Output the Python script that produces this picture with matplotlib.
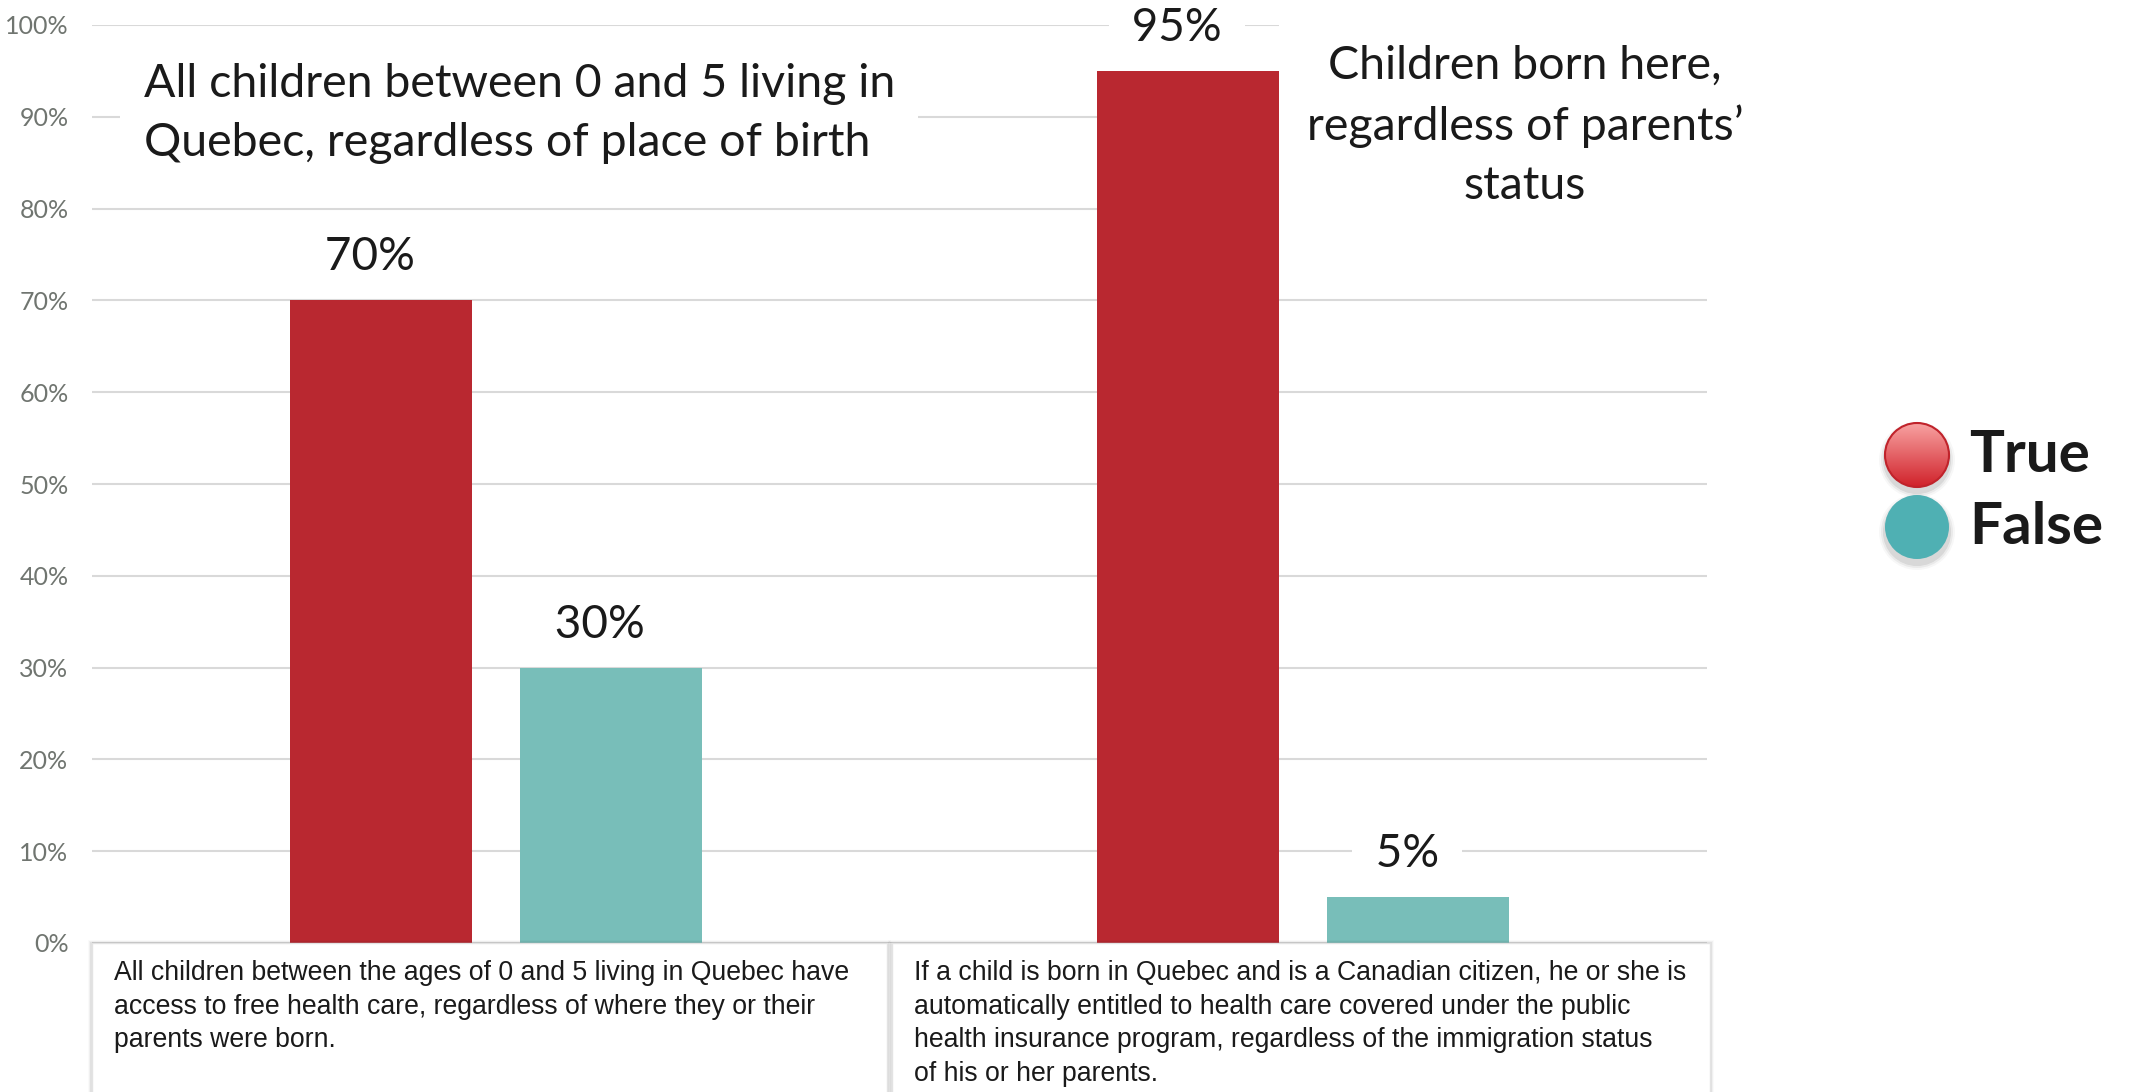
import numpy as np
import matplotlib
matplotlib.use("Agg")
import matplotlib.pyplot as plt
from matplotlib.patches import Circle, Rectangle
from matplotlib.ticker import FuncFormatter

# --- data ---
categories = ["All children 0-5 in Quebec", "Children born here"]
true_pct = [70, 95]
false_pct = [30, 5]
yticks = [0, 10, 20, 30, 40, 50, 60, 70, 80, 90, 100]

title_left = "All children between 0 and 5 living in\nQuebec, regardless of place of birth"
title_right = "Children born here,\nregardless of parents\u2019\nstatus"
note_left = ("All children between the ages of 0 and 5 living in Quebec have\n"
             "access to free health care, regardless of where they or their\n"
             "parents were born.")
note_right = ("If a child is born in Quebec and is a Canadian citizen, he or she is\n"
              "automatically entitled to health care covered under the public\n"
              "health insurance program, regardless of the immigration status\n"
              "of his or her parents.")
legend_labels = ["True", "False"]

RED = "#B92830"
TEAL = "#78BEB9"
GRID = "#D9D9D9"
FONT = ["Lato", "DejaVu Sans"]
NOTE_FONT = ["Liberation Sans Narrow", "Liberation Sans", "DejaVu Sans"]

W, H = 2129, 1092
fig = plt.figure(figsize=(W / 100, H / 100), dpi=100)
fig.patch.set_facecolor("white")

ax = fig.add_axes([92 / W, 149 / H, 1615 / W, 918 / H])
ax.set_xlim(-0.5, 1.5)
ax.set_ylim(0, 1)

x = np.arange(len(categories))
bw = 0.2255
off = 0.1425
yt = np.array(yticks) / 100
ax.bar(x - off, np.array(true_pct) / 100, bw, color=RED, zorder=3)
ax.bar(x + off, np.array(false_pct) / 100, bw, color=TEAL, zorder=3)

# gridlines and axis styling
ax.set_yticks(yt)
ax.yaxis.set_major_formatter(FuncFormatter(lambda v, p: f"{v * 100:.0f}%"))
ax.set_xticks([])
ax.grid(axis="y", color=GRID, linewidth=1.5, zorder=0)
ax.set_axisbelow(True)
ax.tick_params(axis="y", length=0, pad=17, labelsize=18, labelcolor="#707570")
for lbl in ax.get_yticklabels():
    lbl.set_family(FONT)
for s in ax.spines.values():
    s.set_visible(False)

# value labels above bars (white backing breaks the gridline behind them)
for xs, vals in ((x - off, true_pct), (x + off, false_pct)):
    for xi, v in zip(xs, vals):
        ax.annotate(f" {v}% ", (xi, v / 100), xytext=(-8, 31), textcoords="offset points",
                    ha="center", va="center", fontsize=33, family=FONT, color="#1a1a1a",
                    bbox=dict(boxstyle="square,pad=0.25", fc="white", ec="none"),
                    zorder=2.5, annotation_clip=False)

# group titles
ax.text(0.032, 0.904, title_left, transform=ax.transAxes, ha="left", va="center",
        fontsize=33.5, family=FONT, color="#1a1a1a", linespacing=1.5, zorder=2,
        bbox=dict(boxstyle="square,pad=0.5", fc="white", ec="none"))
ax.text(0.8873, 0.89, title_right, transform=ax.transAxes, ha="center", va="center",
        multialignment="center", fontsize=33.5, family=FONT, color="#1a1a1a",
        linespacing=1.5, zorder=2, clip_on=False,
        bbox=dict(boxstyle="square,pad=0.6", fc="white", ec="none"))

# explanation boxes below the axis
def note_box(x0, x1, text):
    for k, a in enumerate([0.06, 0.04, 0.02]):
        fig.add_artist(Rectangle(((x0 - 2 - k) / W, -0.05), (x1 - x0 + 4 + 2 * k) / W,
                                 (H - 943 + 1 + k) / H + 0.05, transform=fig.transFigure,
                                 fc="black", ec="none", alpha=a, zorder=4))
    fig.add_artist(Rectangle((x0 / W, -0.05), (x1 - x0) / W, (H - 943) / H + 0.05,
                             transform=fig.transFigure, fc="white", ec="#E3E3E3",
                             lw=1, zorder=5))
    fig.text((x0 + 22) / W, (H - 960) / H, text, ha="left", va="top", fontsize=19.2,
             family=NOTE_FONT, color="#1a1a1a", linespacing=1.38, zorder=6)

note_box(92, 887, note_left)
note_box(892, 1710, note_right)

# legend with round markers
lax = fig.add_axes([0, 0, 1, 1], zorder=7)
lax.set_xlim(0, W)
lax.set_ylim(H, 0)
lax.axis("off")
marker_y = [455, 527]
r = 32
for my in marker_y:
    for k, a in enumerate([0.08, 0.05, 0.03]):
        lax.add_patch(Circle((1917, my + 5), r + 2 + 2 * k, fc="black", ec="none",
                             alpha=a, zorder=1))
# red marker: vertical gradient clipped to a circle
grad = np.linspace(0, 1, 128)[:, None]
top = np.array(matplotlib.colors.to_rgb("#F8A2A2"))
bot = np.array(matplotlib.colors.to_rgb("#D0222A"))
img = top + (bot - top) * grad[..., None] * np.ones((1, 2, 1))
clip = Circle((1917, marker_y[0]), r, transform=lax.transData)
im = lax.imshow(img, extent=(1917 - r, 1917 + r, marker_y[0] + r, marker_y[0] - r),
                aspect="auto", interpolation="bilinear", zorder=2)
im.set_clip_path(clip)
lax.add_patch(Circle((1917, marker_y[0]), r, fc="none", ec="#C0232B", lw=1.5, zorder=3))
lax.add_patch(Circle((1917, marker_y[1]), r, fc="#4FB0B3", ec="none", zorder=3))
lax.set_xlim(0, W)
lax.set_ylim(H, 0)
for my, lbl in zip(marker_y, legend_labels):
    lax.text(1969, my, lbl, ha="left", va="center", fontsize=42, fontweight="bold",
             family=FONT, color="#1a1a1a", zorder=4)

fig.savefig("out.png", dpi=100, facecolor="white")
